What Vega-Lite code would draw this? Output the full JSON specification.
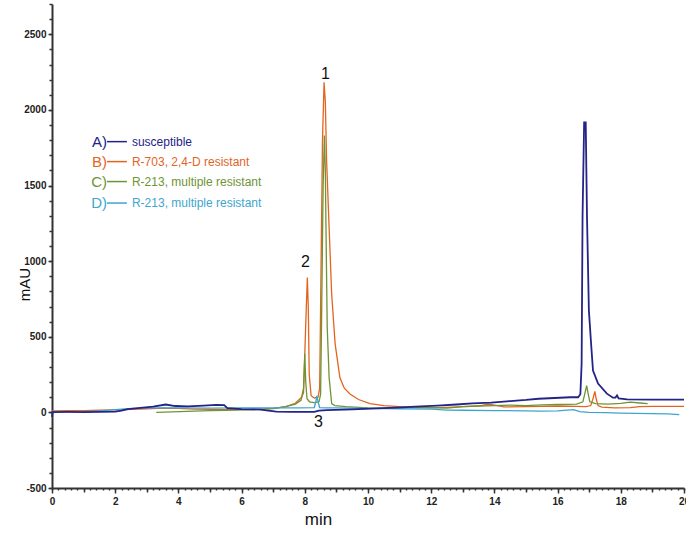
{
  "$schema": "https://vega.github.io/schema/vega-lite/v6.json",
  "autosize": {"type": "none"},
  "padding": {"left": 52, "top": 4, "right": 2, "bottom": 50},
  "width": 632,
  "height": 484,
  "background": "white",
  "config": {"view": {"stroke": null}, "font": "Liberation Sans"},
  "datasets": {
    "traces": [
      {"s":"A","t":0,"v":-30},{"s":"A","t":0.02,"v":2},{"s":"A","t":0.5,"v":3},{"s":"A","t":1,"v":2},{"s":"A","t":1.5,"v":3},{"s":"A","t":2,"v":5},{"s":"A","t":2.2,"v":12},{"s":"A","t":2.4,"v":22},{"s":"A","t":2.8,"v":30},{"s":"A","t":3.2,"v":38},{"s":"A","t":3.6,"v":52},{"s":"A","t":3.9,"v":42},{"s":"A","t":4.3,"v":40},{"s":"A","t":4.8,"v":45},{"s":"A","t":5.2,"v":50},{"s":"A","t":5.45,"v":48},{"s":"A","t":5.55,"v":28},{"s":"A","t":6,"v":22},{"s":"A","t":6.6,"v":18},{"s":"A","t":7.1,"v":5},{"s":"A","t":7.6,"v":3},{"s":"A","t":8.3,"v":3},{"s":"A","t":8.45,"v":12},{"s":"A","t":8.7,"v":15},{"s":"A","t":9.5,"v":20},{"s":"A","t":10.3,"v":26},{"s":"A","t":10.9,"v":32},{"s":"A","t":11.5,"v":38},{"s":"A","t":12.2,"v":45},{"s":"A","t":12.8,"v":52},{"s":"A","t":13.3,"v":60},{"s":"A","t":13.9,"v":65},{"s":"A","t":14.5,"v":75},{"s":"A","t":15,"v":82},{"s":"A","t":15.4,"v":90},{"s":"A","t":15.9,"v":95},{"s":"A","t":16.4,"v":100},{"s":"A","t":16.65,"v":100},{"s":"A","t":16.72,"v":120},{"s":"A","t":16.76,"v":320},{"s":"A","t":16.79,"v":1300},{"s":"A","t":16.84,"v":1918},{"s":"A","t":16.89,"v":1918},{"s":"A","t":16.93,"v":1300},{"s":"A","t":16.99,"v":673},{"s":"A","t":17.06,"v":454},{"s":"A","t":17.12,"v":276},{"s":"A","t":17.28,"v":190},{"s":"A","t":17.56,"v":124},{"s":"A","t":17.75,"v":97},{"s":"A","t":17.83,"v":98},{"s":"A","t":17.88,"v":112},{"s":"A","t":17.93,"v":92},{"s":"A","t":18.2,"v":86},{"s":"A","t":19,"v":84},{"s":"A","t":20,"v":84},
      {"s":"B","t":0,"v":10},{"s":"B","t":0.5,"v":12},{"s":"B","t":1,"v":12},{"s":"B","t":1.5,"v":14},{"s":"B","t":2,"v":16},{"s":"B","t":2.5,"v":20},{"s":"B","t":3,"v":24},{"s":"B","t":3.5,"v":28},{"s":"B","t":4,"v":26},{"s":"B","t":4.5,"v":22},{"s":"B","t":5,"v":20},{"s":"B","t":5.5,"v":18},{"s":"B","t":6,"v":18},{"s":"B","t":6.5,"v":20},{"s":"B","t":7,"v":25},{"s":"B","t":7.4,"v":38},{"s":"B","t":7.7,"v":60},{"s":"B","t":7.9,"v":100},{"s":"B","t":7.96,"v":130},{"s":"B","t":8.02,"v":520},{"s":"B","t":8.08,"v":891},{"s":"B","t":8.11,"v":700},{"s":"B","t":8.14,"v":250},{"s":"B","t":8.2,"v":110},{"s":"B","t":8.3,"v":95},{"s":"B","t":8.42,"v":100},{"s":"B","t":8.47,"v":160},{"s":"B","t":8.5,"v":700},{"s":"B","t":8.56,"v":1800},{"s":"B","t":8.61,"v":2183},{"s":"B","t":8.65,"v":2050},{"s":"B","t":8.69,"v":1663},{"s":"B","t":8.77,"v":1220},{"s":"B","t":8.85,"v":783},{"s":"B","t":8.96,"v":453},{"s":"B","t":9.11,"v":230},{"s":"B","t":9.25,"v":160},{"s":"B","t":9.43,"v":122},{"s":"B","t":9.7,"v":85},{"s":"B","t":10.06,"v":58},{"s":"B","t":10.5,"v":45},{"s":"B","t":11,"v":38},{"s":"B","t":11.5,"v":32},{"s":"B","t":12,"v":30},{"s":"B","t":12.5,"v":33},{"s":"B","t":13,"v":38},{"s":"B","t":13.5,"v":42},{"s":"B","t":13.8,"v":55},{"s":"B","t":14,"v":48},{"s":"B","t":14.3,"v":36},{"s":"B","t":15,"v":38},{"s":"B","t":15.5,"v":40},{"s":"B","t":16,"v":42},{"s":"B","t":16.6,"v":40},{"s":"B","t":16.9,"v":38},{"s":"B","t":17.05,"v":45},{"s":"B","t":17.12,"v":90},{"s":"B","t":17.18,"v":139},{"s":"B","t":17.22,"v":90},{"s":"B","t":17.28,"v":45},{"s":"B","t":17.4,"v":35},{"s":"B","t":17.8,"v":30},{"s":"B","t":18.3,"v":32},{"s":"B","t":18.6,"v":38},{"s":"B","t":19,"v":40},{"s":"B","t":20,"v":40},
      {"s":"C","t":3.3,"v":0},{"s":"C","t":3.8,"v":3},{"s":"C","t":4.5,"v":8},{"s":"C","t":5,"v":12},{"s":"C","t":5.5,"v":14},{"s":"C","t":6,"v":16},{"s":"C","t":6.5,"v":20},{"s":"C","t":7,"v":26},{"s":"C","t":7.4,"v":38},{"s":"C","t":7.7,"v":55},{"s":"C","t":7.88,"v":80},{"s":"C","t":7.96,"v":160},{"s":"C","t":8.0,"v":387},{"s":"C","t":8.03,"v":200},{"s":"C","t":8.07,"v":90},{"s":"C","t":8.15,"v":70},{"s":"C","t":8.3,"v":65},{"s":"C","t":8.45,"v":70},{"s":"C","t":8.5,"v":120},{"s":"C","t":8.53,"v":600},{"s":"C","t":8.58,"v":1500},{"s":"C","t":8.62,"v":1830},{"s":"C","t":8.65,"v":1600},{"s":"C","t":8.67,"v":1220},{"s":"C","t":8.71,"v":560},{"s":"C","t":8.77,"v":230},{"s":"C","t":8.85,"v":58},{"s":"C","t":8.95,"v":45},{"s":"C","t":9.3,"v":38},{"s":"C","t":10,"v":30},{"s":"C","t":10.5,"v":28},{"s":"C","t":11,"v":30},{"s":"C","t":11.5,"v":35},{"s":"C","t":12,"v":32},{"s":"C","t":12.5,"v":28},{"s":"C","t":13,"v":38},{"s":"C","t":13.5,"v":42},{"s":"C","t":14,"v":45},{"s":"C","t":14.5,"v":48},{"s":"C","t":15,"v":45},{"s":"C","t":15.5,"v":50},{"s":"C","t":16,"v":52},{"s":"C","t":16.6,"v":55},{"s":"C","t":16.8,"v":70},{"s":"C","t":16.88,"v":140},{"s":"C","t":16.92,"v":177},{"s":"C","t":16.96,"v":130},{"s":"C","t":17.02,"v":70},{"s":"C","t":17.2,"v":58},{"s":"C","t":17.6,"v":55},{"s":"C","t":18,"v":60},{"s":"C","t":18.3,"v":68},{"s":"C","t":18.6,"v":62},{"s":"C","t":18.85,"v":58},
      {"s":"D","t":0,"v":2},{"s":"D","t":0.5,"v":3},{"s":"D","t":1,"v":5},{"s":"D","t":1.5,"v":10},{"s":"D","t":2,"v":18},{"s":"D","t":2.4,"v":25},{"s":"D","t":3,"v":28},{"s":"D","t":3.5,"v":30},{"s":"D","t":4,"v":30},{"s":"D","t":5,"v":28},{"s":"D","t":6,"v":30},{"s":"D","t":7,"v":30},{"s":"D","t":7.8,"v":30},{"s":"D","t":8.3,"v":32},{"s":"D","t":8.35,"v":70},{"s":"D","t":8.38,"v":110},{"s":"D","t":8.42,"v":70},{"s":"D","t":8.47,"v":32},{"s":"D","t":8.7,"v":30},{"s":"D","t":9,"v":30},{"s":"D","t":9.5,"v":28},{"s":"D","t":10,"v":26},{"s":"D","t":11,"v":24},{"s":"D","t":12,"v":22},{"s":"D","t":12.5,"v":15},{"s":"D","t":13,"v":14},{"s":"D","t":14,"v":12},{"s":"D","t":15,"v":10},{"s":"D","t":15.5,"v":8},{"s":"D","t":16,"v":10},{"s":"D","t":16.5,"v":18},{"s":"D","t":16.7,"v":5},{"s":"D","t":17,"v":0},{"s":"D","t":17.5,"v":-2},{"s":"D","t":18,"v":-5},{"s":"D","t":18.5,"v":-6},{"s":"D","t":19,"v":-8},{"s":"D","t":19.5,"v":-10},{"s":"D","t":19.85,"v":-15}
    ],
    "legend": [
      {"s":"A","tag":"A)","name":"susceptible","ly":1790},
      {"s":"B","tag":"B)","name":"R-703, 2,4-D resistant","ly":1658},
      {"s":"C","tag":"C)","name":"R-213, multiple resistant","ly":1526},
      {"s":"D","tag":"D)","name":"R-213, multiple resistant","ly":1384}
    ],
    "peaks": [
      {"n":"1","t":8.65,"v":2240},
      {"n":"2","t":8.02,"v":997},
      {"n":"3","t":8.43,"v":-61}
    ]
  },
  "resolve": {"axis": {"x": "independent", "y": "independent"}},
  "layer": [
    {
      "data": {"name": "traces"},
      "transform": [{"filter": "datum.s === 'D'"}],
      "mark": {"type": "line", "opacity": 0},
      "encoding": {
        "x": {"field": "t", "type": "quantitative", "scale": {"domain": [0, 20], "nice": false, "zero": false},
          "axis": {"orient": "bottom", "values": [0,0.2,0.4,0.6,0.8,1,1.2,1.4,1.6,1.8,2,2.2,2.4,2.6,2.8,3,3.2,3.4,3.6,3.8,4,4.2,4.4,4.6,4.8,5,5.2,5.4,5.6,5.8,6,6.2,6.4,6.6,6.8,7,7.2,7.4,7.6,7.8,8,8.2,8.4,8.6,8.8,9,9.2,9.4,9.6,9.8,10,10.2,10.4,10.6,10.8,11,11.2,11.4,11.6,11.8,12,12.2,12.4,12.6,12.8,13,13.2,13.4,13.6,13.8,14,14.2,14.4,14.6,14.8,15,15.2,15.4,15.6,15.8,16,16.2,16.4,16.6,16.8,17,17.2,17.4,17.6,17.8,18,18.2,18.4,18.6,18.8,19,19.2,19.4,19.6,19.8,20],
            "labels": false, "domain": false, "grid": false, "title": null, "tickSize": 2, "tickWidth": 1.5, "tickColor": "#333"}},
        "y": {"field": "v", "type": "quantitative", "scale": {"domain": [-500, 2700], "nice": false, "zero": false},
          "axis": {"orient": "left", "values": [-500,-400,-300,-200,-100,0,100,200,300,400,500,600,700,800,900,1000,1100,1200,1300,1400,1500,1600,1700,1800,1900,2000,2100,2200,2300,2400,2500,2600,2700],
            "labels": false, "domain": false, "grid": false, "title": null, "tickSize": 3, "tickWidth": 1.5, "tickColor": "#333"}}
      }
    },
    {
      "data": {"name": "traces"},
      "transform": [{"filter": "datum.s === 'B'"}],
      "mark": {"type": "line", "strokeWidth": 1.3},
      "encoding": {
        "x": {"field": "t", "type": "quantitative", "scale": {"domain": [0, 20], "nice": false, "zero": false},
          "axis": {"orient": "bottom", "values": [1,3,5,7,9,11,13,15,17,19], "labels": false, "domain": false, "grid": false, "title": null, "tickSize": 4, "tickWidth": 1.5, "tickColor": "#333"}},
        "y": {"field": "v", "type": "quantitative", "scale": {"domain": [-500, 2700], "nice": false, "zero": false}, "axis": null},
        "color": {"field": "s", "type": "nominal", "legend": null,
          "scale": {"domain": ["A", "B", "C", "D"], "range": ["#232388", "#e2651f", "#6e9434", "#3ea5cf"]}}
      }
    },
    {
      "data": {"name": "traces"},
      "transform": [{"filter": "datum.s === 'C'"}],
      "mark": {"type": "line", "strokeWidth": 1.3},
      "encoding": {
        "x": {"field": "t", "type": "quantitative", "axis": null},
        "y": {"field": "v", "type": "quantitative", "axis": null},
        "color": {"field": "s", "type": "nominal", "legend": null}
      }
    },
    {
      "data": {"name": "traces"},
      "transform": [{"filter": "datum.s === 'D'"}],
      "mark": {"type": "line", "strokeWidth": 1.3},
      "encoding": {
        "x": {"field": "t", "type": "quantitative", "axis": null},
        "y": {"field": "v", "type": "quantitative", "axis": null},
        "color": {"field": "s", "type": "nominal", "legend": null}
      }
    },
    {
      "data": {"name": "traces"},
      "transform": [{"filter": "datum.s === 'A'"}],
      "mark": {"type": "line", "strokeWidth": 1.8},
      "encoding": {
        "x": {"field": "t", "type": "quantitative",
          "axis": {"orient": "bottom", "values": [0,2,4,6,8,10,12,14,16,18,20], "grid": false,
            "domainColor": "#333", "domainWidth": 2, "tickColor": "#333", "tickWidth": 1.5, "tickSize": 5,
            "labelFont": "Liberation Sans", "labelFontSize": 10, "labelFontWeight": "bold", "labelColor": "#222",
            "labelPadding": 3, "labelOverlap": false, "labelBound": false, "labelFlush": false,
            "title": "min", "titleFont": "Liberation Sans", "titleFontSize": 17, "titleFontWeight": "normal", "titleColor": "#111",
            "titleX": 266, "titleY": 31, "titleBaseline": "middle"}},
        "y": {"field": "v", "type": "quantitative",
          "axis": {"orient": "left", "values": [-500,0,500,1000,1500,2000,2500], "grid": false,
            "labelExpr": "'' + datum.value",
            "domainColor": "#333", "domainWidth": 2, "tickColor": "#333", "tickWidth": 1.5, "tickSize": 4,
            "labelFont": "Liberation Sans", "labelFontSize": 10, "labelFontWeight": "bold", "labelColor": "#222",
            "labelPadding": 2, "labelOverlap": false,
            "title": "mAU", "titleFont": "Liberation Sans", "titleFontSize": 15, "titleFontWeight": "normal", "titleColor": "#111",
            "titleAngle": -90, "titleX": -28, "titleY": 280, "titleBaseline": "middle", "titleAlign": "center"}},
        "color": {"field": "s", "type": "nominal", "legend": null}
      }
    },
    {
      "data": {"name": "legend"},
      "mark": {"type": "rule", "strokeWidth": 1.5},
      "encoding": {
        "x": {"datum": 1.74, "type": "quantitative", "axis": null},
        "x2": {"datum": 2.37},
        "y": {"field": "ly", "type": "quantitative", "axis": null},
        "color": {"field": "s", "type": "nominal", "legend": null}
      }
    },
    {
      "data": {"name": "legend"},
      "mark": {"type": "text", "align": "right", "baseline": "middle", "fontSize": 15, "font": "Liberation Sans"},
      "encoding": {
        "x": {"datum": 1.74, "type": "quantitative", "axis": null},
        "y": {"field": "ly", "type": "quantitative", "axis": null},
        "text": {"field": "tag"},
        "color": {"field": "s", "type": "nominal", "legend": null}
      }
    },
    {
      "data": {"name": "legend"},
      "mark": {"type": "text", "align": "left", "baseline": "middle", "fontSize": 12, "font": "Liberation Sans"},
      "encoding": {
        "x": {"datum": 2.53, "type": "quantitative", "axis": null},
        "y": {"field": "ly", "type": "quantitative", "axis": null},
        "text": {"field": "name"},
        "color": {"field": "s", "type": "nominal", "legend": null}
      }
    },
    {
      "data": {"name": "peaks"},
      "mark": {"type": "text", "align": "center", "baseline": "middle", "fontSize": 16, "font": "Liberation Sans", "color": "#111"},
      "encoding": {
        "x": {"field": "t", "type": "quantitative", "axis": null},
        "y": {"field": "v", "type": "quantitative", "axis": null},
        "text": {"field": "n"}
      }
    }
  ]
}
